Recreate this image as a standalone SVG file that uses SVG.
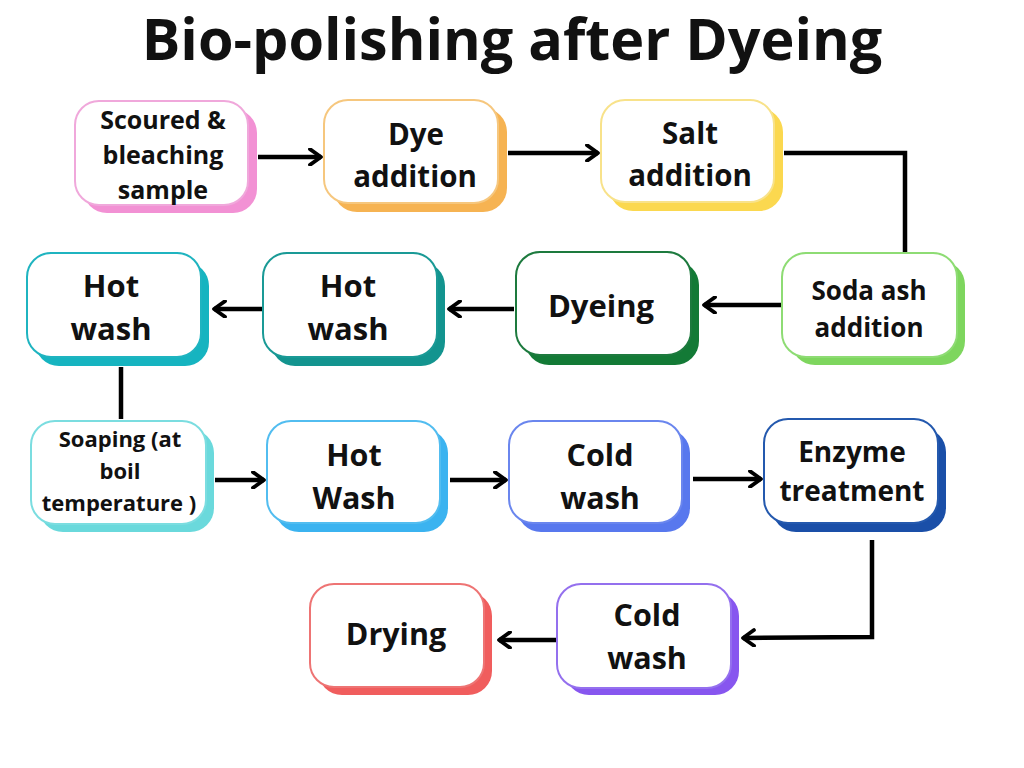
<svg xmlns="http://www.w3.org/2000/svg" width="1024" height="768" viewBox="0 0 1024 768">
<defs>
<style>
.t{font-family:"Open Sans","Liberation Sans",sans-serif;font-weight:700;fill:#111;text-anchor:middle}
.box{fill:#fff;stroke-width:2}
.c{fill:none;stroke:#000;stroke-width:4.5;stroke-linejoin:miter}
</style>
<marker id="ah" viewBox="0 0 12 12" refX="9" refY="6" markerWidth="4.2" markerHeight="4.2" markerUnits="strokeWidth" orient="auto">
<path d="M2,1 L9,6 L2,11" fill="none" stroke="#000" stroke-width="2.4" stroke-linecap="round" stroke-linejoin="round"/>
</marker>
</defs>
<rect width="1024" height="768" fill="#fff"/>
<text class="t" x="512" y="60" font-size="57.5">Bio-polishing after Dyeing</text>

<g id="connectors">
<path class="c" d="M258,157 L321,157" marker-end="url(#ah)"/>
<path class="c" d="M508,153 L598,153" marker-end="url(#ah)"/>
<path class="c" d="M784,153 L905,153 L905,252"/>
<path class="c" d="M782,305 L704,305" marker-end="url(#ah)"/>
<path class="c" d="M514,309 L449,309" marker-end="url(#ah)"/>
<path class="c" d="M263,309 L214,309" marker-end="url(#ah)"/>
<path class="c" d="M121,367 L121,419"/>
<path class="c" d="M215,480 L264,480" marker-end="url(#ah)"/>
<path class="c" d="M450,480 L506,480" marker-end="url(#ah)"/>
<path class="c" d="M693,479 L761,479" marker-end="url(#ah)"/>
<path class="c" d="M872,540 L872,637 L743,638" marker-end="url(#ah)"/>
<path class="c" d="M556,640 L499,640" marker-end="url(#ah)"/>
</g>

<g id="n1">
<rect x="83" y="109" width="174" height="104" rx="24" fill="#f291d4"/>
<rect class="box" x="75" y="101" width="173" height="104" rx="24" stroke="#f0a8db"/>
<text class="t" font-size="25"><tspan x="163" y="129">Scoured &amp;</tspan><tspan x="163" y="164">bleaching</tspan><tspan x="163" y="199">sample</tspan></text>
</g>
<g id="n2">
<rect x="333" y="108" width="174" height="104" rx="24" fill="#f6b352"/>
<rect class="box" x="324" y="100" width="174" height="103" rx="24" stroke="#f6c77e"/>
<text class="t" font-size="29.5"><tspan x="416" y="145">Dye</tspan><tspan x="415" y="187">addition</tspan></text>
</g>
<g id="n3">
<rect x="609" y="108" width="174" height="103" rx="24" fill="#fbd84f"/>
<rect class="box" x="601" y="100" width="173" height="102" rx="24" stroke="#f8e28a"/>
<text class="t" font-size="29.5"><tspan x="690" y="144">Salt</tspan><tspan x="690" y="186">addition</tspan></text>
</g>
<g id="n4">
<rect x="791" y="261" width="174" height="104" rx="24" fill="#7ed65e"/>
<rect class="box" x="782" y="253" width="175" height="104" rx="24" stroke="#8edc74"/>
<text class="t" font-size="26"><tspan x="869" y="300">Soda ash</tspan><tspan x="869" y="337">addition</tspan></text>
</g>
<g id="n5">
<rect x="525" y="261" width="174" height="104" rx="24" fill="#137a36"/>
<rect class="box" x="516" y="252" width="175" height="103" rx="24" stroke="#1d7a3e"/>
<text class="t" font-size="31"><tspan x="601" y="317">Dyeing</tspan></text>
</g>
<g id="n6">
<rect x="271" y="262" width="174" height="104" rx="24" fill="#13948f"/>
<rect class="box" x="263" y="253" width="174" height="104" rx="24" stroke="#1a9a96"/>
<text class="t" font-size="31"><tspan x="348" y="297">Hot</tspan><tspan x="348" y="340">wash</tspan></text>
</g>
<g id="n7">
<rect x="35" y="262" width="174" height="104" rx="24" fill="#16b4c0"/>
<rect class="box" x="27" y="253" width="174" height="104" rx="24" stroke="#1fb4c0"/>
<text class="t" font-size="31"><tspan x="111" y="297">Hot</tspan><tspan x="111" y="340">wash</tspan></text>
</g>
<g id="n8">
<rect x="39" y="429" width="175" height="103" rx="24" fill="#6ad9dc"/>
<rect class="box" x="31" y="421" width="175" height="103" rx="24" stroke="#7bdde0"/>
<text class="t" font-size="22"><tspan x="120" y="447">Soaping (at</tspan><tspan x="120" y="479">boil</tspan><tspan x="119" y="511">temperature )</tspan></text>
</g>
<g id="n9">
<rect x="275" y="429" width="173" height="103" rx="24" fill="#3bb3f0"/>
<rect class="box" x="267" y="421" width="173" height="102" rx="24" stroke="#52bdf0"/>
<text class="t" font-size="30.5"><tspan x="354" y="466">Hot</tspan><tspan x="354" y="509">Wash</tspan></text>
</g>
<g id="n10">
<rect x="517" y="429" width="173" height="103" rx="24" fill="#5878ee"/>
<rect class="box" x="509" y="421" width="173" height="102" rx="24" stroke="#6a86ee"/>
<text class="t" font-size="30.5"><tspan x="600" y="466">Cold</tspan><tspan x="600" y="509">wash</tspan></text>
</g>
<g id="n11">
<rect x="772" y="428" width="174" height="104" rx="24" fill="#1a4fa8"/>
<rect class="box" x="764" y="419" width="174" height="104" rx="24" stroke="#2459ae"/>
<text class="t" font-size="28"><tspan x="852" y="462">Enzyme</tspan><tspan x="852" y="501">treatment</tspan></text>
</g>
<g id="n12">
<rect x="565" y="592" width="174" height="103" rx="24" fill="#8756ef"/>
<rect class="box" x="557" y="584" width="174" height="104" rx="24" stroke="#9470ee"/>
<text class="t" font-size="30.5"><tspan x="647" y="626">Cold</tspan><tspan x="647" y="669">wash</tspan></text>
</g>
<g id="n13">
<rect x="318" y="592" width="174" height="103" rx="24" fill="#f05d5d"/>
<rect class="box" x="310" y="584" width="174" height="103" rx="24" stroke="#ee7474"/>
<text class="t" font-size="30.5"><tspan x="396" y="645">Drying</tspan></text>
</g>
</svg>
